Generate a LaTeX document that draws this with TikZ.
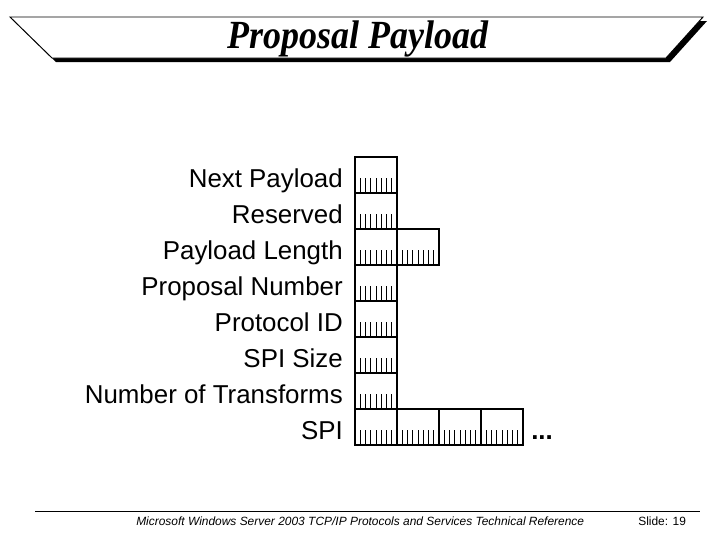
\documentclass[tikz,border=0pt]{standalone}
\usepackage{fontspec}
\setmainfont{Liberation Sans}
\newfontfamily\titlefont{Liberation Serif}
\tikzstyle{field} = [anchor=base east, inner sep=0pt, font=\fontsize{18.4}{22}\selectfont]
\tikzstyle{box} = [line width=0.8pt]
\tikzstyle{tick} = [line width=0.55pt]
\tikzstyle{title} = [anchor=base, inner sep=0pt, font=\fontsize{28.4}{32}\titlefont\bfseries\itshape]
\tikzstyle{foot} = [anchor=base west, inner sep=0pt, font=\fontsize{8.5}{10}\selectfont]
% one octet: box with its bit ticks, top left corner at (#1,#2)
\newcommand{\octet}[2]{%
    \draw[box] (#1,#2) rectangle ++(42,36);
    \foreach \k in {1,...,7}
        \draw[tick] ({#1+5.25*\k},{#2+36}) -- ++(0,-15);
}

\begin{document}
\begin{tikzpicture}[x=0.025cm,y=-0.025cm]
    \useasboundingbox (0,0) rectangle (720,540);
    % banner
    \fill (14,21) -- (707,21) -- (670,62) -- (56,62) -- cycle;
    \filldraw[fill=white, line width=0.7pt] (10,17) -- (703,17) -- (666,58) -- (52,58) -- cycle;
    \node[title] (ttl) at (358,48) {\scalebox{0.9}[1]{Proposal Payload}};
    % field names
    \node[field] (np) at (343,187) {Next Payload};
    \node[field] (res) at (343,223) {Reserved};
    \node[field] (plen) at (343,259) {Payload Length};
    \node[field] (pnum) at (343,295) {Proposal Number};
    \node[field] (pid) at (343,331) {Protocol ID};
    \node[field] (spisz) at (343,367) {SPI Size};
    \node[field] (ntr) at (343,403) {Number of Transforms};
    \node[field] (spi) at (343,439) {SPI};
    % octets
    \octet{355}{157}
    \octet{355}{193}
    \octet{355}{229} \octet{397}{229}
    \octet{355}{265}
    \octet{355}{301}
    \octet{355}{337}
    \octet{355}{373}
    \octet{355}{409} \octet{397}{409} \octet{439}{409} \octet{481}{409}
    \node[field, anchor=base west] (more) at (531,439) {\bfseries ...};
    % footer
    \draw[line width=0.6pt] (35,511) -- (700,511);
    \node[foot] (ref) at (136,525) {\itshape Microsoft Windows Server 2003 TCP/IP Protocols and Services Technical Reference};
    \node[foot] (sld) at (638,525) {Slide: 19};
\end{tikzpicture}
\end{document}
